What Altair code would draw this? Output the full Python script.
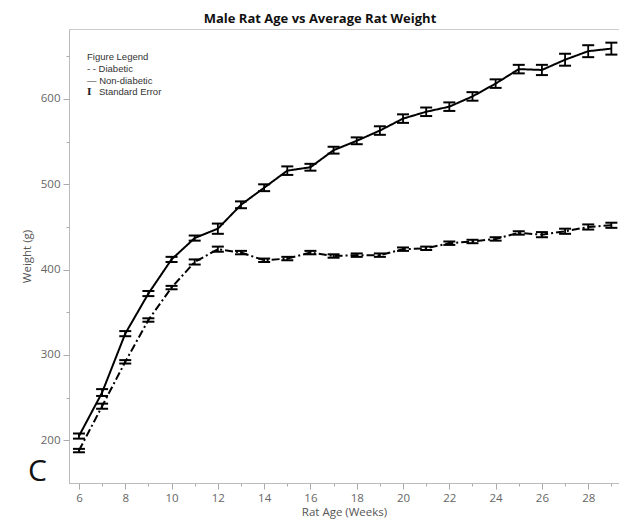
import altair as alt
import pandas as pd

weeks = list(range(6, 30))
nondiabetic = [205, 256, 325, 372, 412, 437, 448, 476, 496, 516, 520, 540, 551, 563, 577, 585,
               591, 603, 618, 635, 634, 646, 656, 659]
nondiabetic_se = [3, 4, 3, 3, 3, 3, 6, 4, 4, 5, 4, 4, 4, 5, 5, 5, 5, 5, 5, 5, 6, 7, 7, 7]
diabetic = [188, 240, 292, 341, 379, 409, 424, 420, 411, 413, 420, 416, 417, 417, 424, 425,
            431, 433, 436, 443, 441, 445, 450, 452]
diabetic_se = [2, 3, 2, 2, 2, 3, 3, 2, 2, 2, 2, 2, 2, 2, 2, 2, 2, 2, 2, 2, 3, 3, 3, 3]

rows = []
for w, v, s in zip(weeks, nondiabetic, nondiabetic_se):
    rows.append({"week": w, "weight": v, "se": s, "group": "Non-diabetic"})
for w, v, s in zip(weeks, diabetic, diabetic_se):
    rows.append({"week": w, "weight": v, "se": s, "group": "Diabetic"})
df = pd.DataFrame(rows)

FONT = "Open Sans"
xscale = alt.Scale(domain=[5.57, 29.33], nice=False, zero=False)
yscale = alt.Scale(domain=[150, 682], nice=False, zero=False)

xaxis = alt.Axis(
    values=list(range(6, 30)),
    labelExpr="datum.value % 2 === 0 ? datum.label : ''",
    tickSize={"condition": {"test": "datum.value % 2 === 0", "value": 6}, "value": 3},
    labelOverlap=False, grid=False, title="Rat Age (Weeks)",
    labelFont=FONT, labelFontSize=11.5, labelColor="#666", labelPadding=3,
    titleFont=FONT, titleFontSize=11.5, titleColor="#555", titleFontWeight="normal",
    titlePadding=3, domainColor="#bbb", tickColor="#aaa",
)
yaxis = alt.Axis(
    values=list(range(200, 651, 50)),
    labelExpr="datum.value % 100 === 0 ? datum.label : ''",
    tickSize={"condition": {"test": "datum.value % 100 === 0", "value": 6}, "value": 3},
    labelOverlap=False, grid=False, title="Weight (g)",
    labelFont=FONT, labelFontSize=11.5, labelColor="#666", labelPadding=3,
    titleFont=FONT, titleFontSize=11.5, titleColor="#555", titleFontWeight="normal",
    titlePadding=8, domainColor="#bbb", tickColor="#aaa",
)

base = alt.Chart(df)

lines = base.mark_line(color="black", strokeWidth=2).encode(
    x=alt.X("week:Q", scale=xscale, axis=xaxis),
    y=alt.Y("weight:Q", scale=yscale, axis=yaxis),
    strokeDash=alt.StrokeDash("group:N", scale=alt.Scale(domain=["Non-diabetic", "Diabetic"],
                                                          range=[[1, 0], [8, 3, 2, 3]]), legend=None),
    detail="group:N",
)

calc = base.transform_calculate(lo="datum.weight - datum.se", hi="datum.weight + datum.se")

stems = calc.mark_rule(color="black", strokeWidth=1.8).encode(
    x=alt.X("week:Q", scale=xscale, axis=xaxis),
    y=alt.Y("lo:Q", scale=yscale, axis=yaxis),
    y2="hi:Q",
)
cap_lo = calc.mark_rule(color="black", strokeWidth=2, xOffset=-6, x2Offset=6).encode(
    x=alt.X("week:Q", scale=xscale, axis=xaxis),
    x2="week:Q",
    y=alt.Y("lo:Q", scale=yscale, axis=yaxis),
)
cap_hi = calc.mark_rule(color="black", strokeWidth=2, xOffset=-6, x2Offset=6).encode(
    x=alt.X("week:Q", scale=xscale, axis=xaxis),
    x2="week:Q",
    y=alt.Y("hi:Q", scale=yscale, axis=yaxis),
)

one = alt.Data(values=[{}])


def label(txt, x, y, size=9.5, font="Liberation Sans", color="#333", weight="normal"):
    return alt.Chart(one).mark_text(align="left", baseline="middle", font=font, fontSize=size,
                                    color=color, fontWeight=weight).encode(
        x=alt.value(x), y=alt.value(y), text=alt.value(txt))


legend_items = ["Figure Legend", "- - Diabetic", "\u2014 Non-diabetic"]
texts = [label(legend_items[0], 18, 28), label(legend_items[1], 18, 40), label(legend_items[2], 18, 52),
         label("I", 18, 63, size=9.5, font="DejaVu Serif", weight="bold", color="#222"),
         label("Standard Error", 30, 63),
         label("C", -41, 443, size=30, font=FONT, color="#111")]

chart = alt.layer(lines, stems, cap_lo, cap_hi, *texts).properties(
    width=550, height=454,
    title=alt.TitleParams("Male Rat Age vs Average Rat Weight", font=FONT, fontSize=13,
                          fontWeight="bold", color="#111", anchor="middle", offset=3, dx=-24),
    autosize=alt.AutoSizeParams(type="none"),
    padding={"left": 61, "top": 21, "right": 0, "bottom": 36},
).configure_view(stroke="#ccc", strokeWidth=1)

chart.save("out.html", embed_options={"renderer": "svg", "actions": False})
